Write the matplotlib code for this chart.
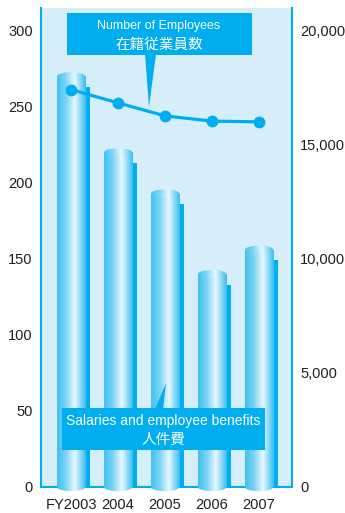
import matplotlib.pyplot as plt
import numpy as np
from matplotlib.colors import LinearSegmentedColormap
from matplotlib.patches import Rectangle, Ellipse, Polygon

# data
years = ["FY2003", "2004", "2005", "2006", "2007"]
salaries = [270, 220, 193, 140, 156]          # left axis (bars)
employees = [17420, 16840, 16270, 16040, 16010]  # right axis (line)

W, H = 345, 513
CYAN = "#00aeef"
BG = "#d6eefa"

plt.rcParams['font.family'] = ['Liberation Sans', 'Noto Sans CJK JP', 'DejaVu Sans']

fig = plt.figure(figsize=(W / 100, H / 100), dpi=100)


def fx(x):
    return x / W


def fy(y):
    return 1 - y / H


# y range goes a bit below zero so the cylinder bottoms can bulge out
YMIN, YMAX = -6, 315
ppu = (487 - 8) / YMAX  # pixels per unit
ax = fig.add_axes([fx(41), fy(487 - YMIN * ppu), (292 - 41) / W, (487 - 8 - YMIN * ppu) / H])
ax.set_facecolor("none")
XMIN, XMAX = -0.64, 4.70
ax.add_patch(Rectangle((XMIN, 0), XMAX - XMIN, YMAX, color=BG, lw=0, zorder=0))

cyl = LinearSegmentedColormap.from_list(
    "cyl", [(0, "#42c1f0"), (0.3, "#7ad3f5"), (0.62, "#e8f8fe"), (1.0, "#3abef0")])
grad = np.linspace(0, 1, 64).reshape(1, -1)

x = np.arange(len(years))
bw = 0.6
ell_h = 5.5

ax.axhline(0, color=CYAN, lw=1.5, zorder=1)

# flat darker "shadow" bars behind the cylinders
ax.bar(x + bw / 2 + 0.055, [v - 7 for v in salaries], width=0.11, color=CYAN,
       zorder=2)

bars = ax.bar(x, salaries, width=bw, color="none", zorder=3)
for b in bars:
    x0, w, h = b.get_x(), b.get_width(), b.get_height()
    parts = [b,
             Ellipse((x0 + w / 2, h), w, ell_h),
             Ellipse((x0 + w / 2, 0), w, ell_h)]
    for p in parts[1:]:
        p.set_facecolor("none")
        p.set_edgecolor("none")
        ax.add_patch(p)
    for k, p in enumerate(parts):
        ext = [x0, x0 + w, -ell_h, h + ell_h]
        im = ax.imshow(grad, cmap=cyl, aspect="auto", extent=ext, zorder=3,
                       interpolation="bilinear", vmin=-0.05 if k == 1 else 0)
        im.set_clip_path(p)

ax.set_xlim(XMIN, XMAX)
ax.set_ylim(YMIN, YMAX)
ax.set_yticks([0, 50, 100, 150, 200, 250, 300])
ax.set_xticks(x)
ax.set_xticklabels(years)
ax.tick_params(length=0, labelsize=10.5, colors="#231f20")
ax.tick_params(axis="y", pad=6)
ax.tick_params(axis="x", pad=1)

for s in ["top", "bottom"]:
    ax.spines[s].set_visible(False)
for s in ["left", "right"]:
    ax.spines[s].set_color(CYAN)
    ax.spines[s].set_linewidth(1.5)
    ax.spines[s].set_bounds(0, YMAX)

ax2 = ax.twinx()
ax2.set_ylim(YMIN / YMAX * 21000, 21000)
ax2.plot(x, employees, color=CYAN, lw=2.3, marker="o", ms=7.5, zorder=5)
ax2.set_yticks([0, 5000, 10000, 15000, 20000])
ax2.set_yticklabels(["0", "5,000", "10,000", "15,000", "20,000"])
ax2.tick_params(length=0, labelsize=10.5, colors="#231f20", pad=6)
for s in ax2.spines.values():
    s.set_visible(False)

# callout boxes
fig.add_artist(Rectangle((fx(67), fy(55)), (252 - 67) / W, (55 - 13) / H,
                         transform=fig.transFigure, color=CYAN, lw=0))
fig.add_artist(Polygon([(fx(145), fy(54)), (fx(156), fy(54)), (fx(149), fy(107))],
                       transform=fig.transFigure, color=CYAN, lw=0))
fig.text(fx(159), fy(26), "Number of Employees", color="white", fontsize=9,
         ha="center", va="center")
fig.text(fx(159), fy(45), "在籍従業員数", color="white", fontsize=10.5,
         ha="center", va="center", family=["Noto Sans CJK JP", "DejaVu Sans"])

fig.add_artist(Rectangle((fx(62), fy(450)), (265 - 62) / W, (450 - 408) / H,
                         transform=fig.transFigure, color=CYAN, lw=0))
fig.add_artist(Polygon([(fx(155), fy(409)), (fx(163), fy(409)), (fx(166), fy(383))],
                       transform=fig.transFigure, color=CYAN, lw=0))
fig.text(fx(163), fy(421), "Salaries and employee benefits", color="white",
         fontsize=10, ha="center", va="center")
fig.text(fx(163), fy(440), "人件費", color="white", fontsize=10.5,
         ha="center", va="center", family=["Noto Sans CJK JP", "DejaVu Sans"])

fig.savefig("out.png", dpi=100)
